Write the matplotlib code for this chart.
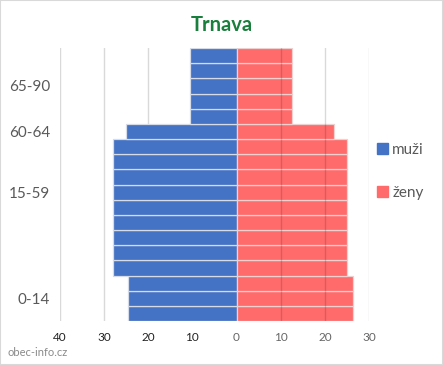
import numpy as np
import matplotlib
matplotlib.use("Agg")
from matplotlib import pyplot as plt
from matplotlib.patches import Rectangle, Patch

plt.rcParams['font.family'] = ['Lato', 'DejaVu Sans']

# one row per 5-year band, labels only at group centres
vek = ['', '0-14', '', '', '', '', '', '', '15-59', '', '', '', '60-64',
       '', '', '65-90', '', '']
muzi = [24.5, 24.5, 24.5, 27.9, 27.9, 27.9, 27.9, 27.9, 27.9, 27.9, 27.9, 27.9,
        25.1, 10.5, 10.5, 10.5, 10.5, 10.5]
zeny = [26.4, 26.4, 26.4, 25.1, 25.1, 25.1, 25.1, 25.1, 25.1, 25.1, 25.1, 25.1,
        22.1, 12.6, 12.6, 12.6, 12.6, 12.6]
x_ticks = [-40, -30, -20, -10, 0, 10, 20, 30]

fig = plt.figure(figsize=(4.43, 3.65), dpi=100)
ax = fig.add_axes([0.1354, 0.1205, 0.6975, 0.748])

y = np.arange(len(vek))
# gridlines for the men's side sit behind the bars
for v in [-40, -30, -20, -10]:
    ax.axvline(v, color='#d9d9d9', lw=1, zorder=0)
ax.barh(y, -np.array(muzi), height=1.0, color='#4472C4',
        edgecolor='#d6dce6', lw=0.9, zorder=2)
ax.barh(y, zeny, height=1.0, color='#FF6B6B',
        edgecolor='#eed0d0', lw=0.9, zorder=2)
# women's gridlines drawn over the bars
for v in [10, 20, 30]:
    ax.axvline(v, color='black', alpha=0.15, lw=1, zorder=3)

ax.set_xlim(-40, 30)
ax.set_ylim(-0.5, len(vek) - 0.5)
ax.set_yticks(y)
ax.set_yticklabels(vek, fontsize=11, color='#595959')
ax.set_xticks(x_ticks)
ax.set_xticklabels([str(abs(t)) for t in x_ticks], fontsize=8.5)
for t, lab in zip(x_ticks, ax.get_xticklabels()):
    lab.set_color('#222222' if t < 0 else '#666666')
ax.tick_params(length=0)
ax.tick_params(axis='y', pad=7)
ax.tick_params(axis='x', pad=8)
for s in ax.spines.values():
    s.set_visible(False)

fig.text(0.5, 0.932, 'Trnava', ha='center', va='center', fontsize=14.5,
         fontweight='bold', color='#1A7F3C')
fig.text(0.016, 0.033, 'obec-info.cz', ha='left', va='center', fontsize=8,
         color='#8a8a8a')

handles = [Patch(color='#4472C4'), Patch(color='#FF6B6B')]
fig.legend(handles, ['muži', 'ženy'], loc='center left',
           bbox_to_anchor=(0.82, 0.53), frameon=False, fontsize=11,
           handlelength=0.7, handleheight=0.7, handletextpad=0.3,
           labelspacing=1.9, labelcolor='#595959')

fig.patches.append(Rectangle((0, 0), 1, 1, transform=fig.transFigure,
                             fill=False, edgecolor='#d9d9d9', lw=1.5))

fig.savefig('out.png', dpi=100)
